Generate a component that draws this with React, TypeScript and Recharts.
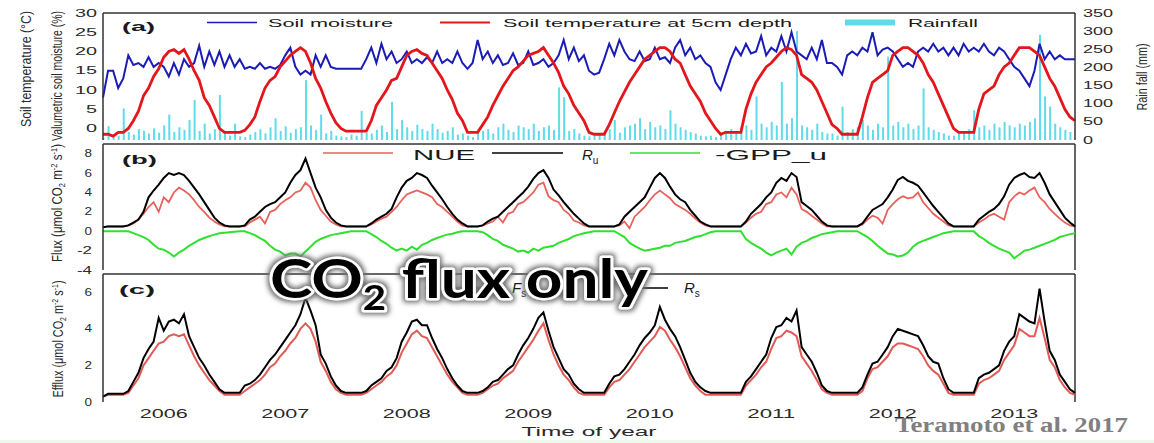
import {
  ComposedChart,
  LineChart,
  Line,
  Bar,
  XAxis,
  YAxis,
  ReferenceLine,
} from "recharts";

const FONT = "'Liberation Sans', Arial, sans-serif";
const AXIS_TEXT = "#2a2a2a";
const FRAME = "#333";

const START_YEAR = 2006;
const END_YEAR = 2014;
const STEPS_PER_YEAR = 24; // half-month samples
const YEAR_BOUNDARIES = [2007, 2008, 2009, 2010, 2011, 2012, 2013];
const YEAR_LABEL_TICKS = [2006.5, 2007.5, 2008.5, 2009.5, 2010.5, 2011.5, 2012.5, 2013.5];

// ---- panel (a) ----
// one row per year, last value closes the series at 2014
const soilMoisture = [
  8, 15, 15, 10.5, 13, 19, 16.5, 17, 16, 18.5, 16, 17, 16, 13.5, 17, 14, 18, 16, 17, 21.5, 16, 20, 16.5, 20,
  16, 19, 16, 18, 15.5, 16, 15.5, 17, 15.5, 16, 15.5, 16.5, 19, 21, 16, 14, 15, 14, 19, 16, 19, 16, 15.5, 15.5,
  15.5, 15.5, 15.5, 15.5, 18, 21, 17, 22, 18, 20, 17, 18, 20, 17, 18, 17, 18.5, 17, 20, 17, 18, 17, 20, 17,
  15.5, 17, 23, 18, 20, 17, 19, 16.5, 17, 19.5, 16.5, 17, 20, 16.5, 17, 18, 16, 17, 19, 23, 18, 21, 17.5, 19,
  15, 14, 14.5, 18, 22, 19, 23, 20, 18, 17.5, 20, 17.5, 18, 21, 18, 18.5, 17, 21, 23, 19, 21, 18, 19, 17,
  16, 12, 10, 14, 18, 21, 19, 22, 19.5, 20, 24, 19, 21, 20, 24, 20, 25, 20, 19, 18, 21, 18, 23, 17,
  17, 16, 14, 19, 20, 19, 21, 20, 25, 19, 20.5, 21, 20, 18, 16, 17, 16, 20, 21, 20, 22, 20, 21, 19,
  21, 19, 22, 20, 21, 20, 22, 20, 19, 21, 20, 18, 16, 15, 13, 11, 15, 22, 18, 20, 18, 19, 18, 18,
  18,
];

const soilTemp = [
  -1.5, -1.5, -2, -1, -1, 0, 2, 4.5, 8.5, 10.5, 13.5, 15.5, 18.5, 20, 20.5, 19.5, 20.5, 18, 15, 12.5, 8, 6, 3, 0,
  -1, -1, -1, -1, -0.5, 1, 3, 7, 10.5, 12.5, 13.5, 16, 17.5, 19, 20, 21, 20, 17, 13, 10.5, 7, 4, 1.5, 0,
  -0.7, -0.7, -0.7, -0.7, -0.7, 2, 6, 8, 10, 12.5, 13, 16, 19, 20, 20.5, 19.5, 19, 17, 15, 13, 10, 7.5, 4, 2,
  -1, -1, -1, 1, 3, 6, 8.5, 11, 13, 15, 16, 17.5, 19, 19.5, 20, 21, 19, 17, 14.5, 11, 9, 6, 4, 2,
  -1, -1.5, -1.5, -1.5, 1, 4, 7, 9.5, 12, 14, 16, 18, 19, 20, 21, 21, 20, 18, 17, 14, 11, 9, 7, 4,
  2, 0, -1.5, -1, -1, -1, -1, 5, 9, 12, 14, 16, 17, 18.5, 20, 21, 20.5, 19, 14, 13, 12, 10, 7, 4,
  1, 0, -1.5, -1.5, -1.5, -1.5, 3, 8, 12, 13, 14, 15, 19, 20, 21, 21, 20, 19, 17, 14, 12, 9, 6, 3,
  0, -1, -1, -1, -1, 5, 9, 10, 11, 14, 16, 17, 19, 21, 21, 21, 20, 19, 16, 13, 11, 8, 5, 3,
  2,
];

const rainfall = [
  5, 38, 10, 12, 87, 22, 15, 30, 25, 18, 32, 20, 40, 70, 22, 35, 28, 55, 110, 25, 45, 18, 30, 124,
  20, 12, 45, 10, 8, 15, 22, 30, 18, 35, 60, 25, 38, 20, 30, 35, 165, 40, 28, 70, 18, 25, 12, 10,
  8, 15, 12, 80, 20, 18, 28, 40, 22, 105, 30, 55, 35, 25, 42, 30, 25, 45, 30, 20, 25, 35, 15, 18,
  12, 8, 20, 25, 30, 18, 35, 45, 28, 22, 40, 35, 30, 45, 25, 35, 40, 28, 145, 118, 25, 30, 18, 12,
  10, 12, 18, 22, 30, 55, 20, 35, 40, 45, 60, 30, 50, 35, 40, 30, 82, 45, 35, 28, 22, 18, 12, 10,
  12, 8, 18, 22, 30, 20, 35, 40, 28, 120, 45, 35, 50, 40, 160, 45, 60, 300, 40, 35, 28, 45, 22, 18,
  18, 12, 92, 22, 30, 35, 55, 40, 28, 45, 35, 230, 40, 50, 35, 45, 30, 40, 142, 35, 28, 22, 18, 12,
  12, 18, 22, 30, 82, 35, 40, 28, 45, 35, 50, 40, 35, 45, 40, 50, 60, 290, 120, 92, 45, 35, 28, 22,
];

// ---- panel (b) ----
const nue = [
  0.4, 0.5, 0.5, 0.5, 0.5, 0.6, 0.8, 1.2, 1.8, 2.5, 3, 2, 3.5, 3, 4, 4.5, 4.2, 3.8, 3.2, 2.5, 2, 1.4, 1, 0.7,
  0.5, 0.5, 0.5, 0.5, 0.5, 0.9, 1.2, 1.5, 0.8, 2, 2.2, 2.8, 3.2, 3.5, 4, 4.2, 5, 4.5, 3.2, 2.2, 1.6, 1, 0.7, 0.5,
  0.5, 0.5, 0.5, 0.5, 0.5, 0.7, 1, 1.3, 1.5, 2, 2.5, 3.2, 3.8, 4, 4.2, 4, 3.8, 3.5, 2.8, 2.5, 2, 1.5, 1, 0.6,
  0.5, 0.5, 0.5, 0.6, 0.8, 1, 1.5, 0.9, 1.8, 2, 2.8, 3, 3.5, 4, 4.8, 5, 3.6, 3.2, 3, 2.2, 1.8, 1.1, 0.9, 0.6,
  0.5, 0.5, 0.5, 0.5, 0.5, 0.5, 0.6, 1, 0.3, 1.5, 2, 2.5, 3.2, 3.8, 4.2, 3.8, 3.4, 2.8, 2.5, 2.2, 1.8, 1.3, 0.9, 0.6,
  0.5, 0.5, 0.5, 0.5, 0.5, 0.5, 0.5, 0.9, 1.4, 1.8, 2, 2.8, 3, 3.8, 4, 3.5, 4.5, 3.8, 2.3, 2, 1.6, 1.2, 0.8, 0.5,
  0.5, 0.5, 0.5, 0.5, 0.5, 0.5, 0.7, 1.2, 1.6, 1.4, 0.8, 2.2, 2.8, 3.3, 3.6, 3.4, 3.5, 4, 3, 2.4, 1.8, 1.4, 1, 0.6,
  0.5, 0.5, 0.5, 0.5, 0.5, 0.9, 1.2, 1.6, 1.8, 1.5, 1.2, 3, 3.6, 4, 3.8, 4.2, 4.5, 3.5, 3, 2.3, 1.8, 1.3, 0.9, 0.6,
  0.5,
];

const ru = [
  0.4, 0.5, 0.5, 0.5, 0.5, 0.6, 0.9, 1.2, 2, 3.5, 4.2, 4.8, 5.5, 6, 5.8, 6, 5.8, 5.2, 4.5, 3.8, 3, 2.2, 1.4, 0.9,
  0.6, 0.5, 0.5, 0.5, 0.6, 1.2, 1.5, 2, 2.5, 2.8, 3, 3.5, 4, 5, 5.8, 6.3, 7.5, 6, 4.5, 3.5, 2.2, 1.4, 0.9, 0.6,
  0.5, 0.5, 0.5, 0.5, 0.5, 0.8, 1.2, 1.5, 1.8, 2.3, 3.5, 4.5, 5.2, 5.5, 6, 5.8, 5.5, 4.7, 4, 3.3, 2.5, 1.8, 1.2, 0.8,
  0.5, 0.5, 0.5, 0.6, 1, 1.3, 1.5, 2, 2.5, 3, 3.5, 4, 4.6, 5.4, 6, 6.3, 5.5, 4.3, 3.7, 3, 2.4, 1.8, 1.3, 0.8,
  0.5, 0.5, 0.5, 0.5, 0.5, 0.5, 0.7, 1.5, 2, 2.5, 3, 3.5, 4.5, 5.5, 6, 5.5, 4.6, 3.8, 3.3, 3, 2.2, 1.6, 1, 0.7,
  0.5, 0.5, 0.5, 0.5, 0.5, 0.5, 0.5, 1, 1.8, 2.3, 2.8, 3.5, 4, 5, 5.5, 5.2, 6, 5.6, 3, 2.6, 2.2, 1.6, 1, 0.6,
  0.5, 0.5, 0.5, 0.5, 0.5, 0.5, 0.8, 1.5, 2.2, 2.5, 2.8, 3.5, 4.3, 5.3, 5.6, 5.2, 5, 4.7, 4, 3.3, 2.6, 2, 1.4, 0.8,
  0.5, 0.5, 0.5, 0.5, 0.5, 1.2, 1.6, 2, 2.3, 2.8, 3.6, 4.8, 5.5, 5.8, 6, 5.6, 5.5, 6, 5, 3.8, 3, 2.2, 1.4, 0.9,
  0.5,
];

const gppU = [
  0, 0, 0, 0, 0, 0, -0.2, -0.4, -0.6, -0.9, -1.4, -1.8, -1.9, -2.2, -2.6, -2.2, -1.9, -1.5, -1.2, -0.9, -0.7, -0.5, -0.35, -0.2,
  -0.15, -0.1, -0.05, 0, 0, -0.2, -0.4, -0.7, -1, -1.5, -1.9, -2.1, -2.5, -2.3, -2.3, -2.6, -2.1, -1.6, -1.1, -0.8, -0.6, -0.4, -0.3, -0.2,
  -0.1, 0, 0, 0, 0, -0.3, -0.6, -1, -1.3, -1.7, -2, -1.8, -2, -1.6, -1.9, -1.4, -1.2, -0.9, -0.7, -0.5, -0.35, -0.25, -0.1, 0,
  0, 0, 0, -0.1, -0.4, -0.8, -1, -1.4, -1.6, -1.8, -2.1, -2, -2.2, -1.8, -2, -1.7, -1.6, -1.5, -1.2, -1, -0.8, -0.5, -0.35, -0.2,
  -0.1, 0, 0, 0, 0, 0, -0.3, -0.6, -1.2, -1.5, -1.8, -2, -1.9, -1.8, -1.7, -1.5, -1.5, -1.2, -1.1, -1, -0.8, -0.6, -0.5, -0.3,
  -0.1, 0, 0, 0, 0, 0, 0, -0.8, -1.2, -1.5, -1.8, -2.2, -2.5, -2.2, -2, -1.8, -2.4, -1.6, -1.2, -1, -0.7, -0.5, -0.3, -0.2,
  -0.1, 0, 0, 0, 0, 0, -0.3, -0.6, -1, -1.5, -1.9, -2.3, -2.4, -2.6, -2.5, -2.2, -1.6, -1.2, -1, -0.8, -0.6, -0.4, -0.2, -0.1,
  0, 0, 0, 0, 0, -0.5, -0.8, -1.2, -1.5, -1.8, -2, -2.2, -2.8, -2.4, -2, -1.9, -1.7, -1.5, -1.3, -1.1, -0.9, -0.6, -0.45, -0.3,
  -0.2,
];

// ---- panel (c) ----
const fsEfflux = [
  0.3, 0.4, 0.4, 0.4, 0.4, 0.5, 0.9, 1.3, 2, 2.4, 2.8, 3.2, 3.3, 3.6, 3.7, 3.6, 3.7, 3.1, 2.5, 2, 1.6, 1.2, 0.9, 0.6,
  0.4, 0.4, 0.4, 0.4, 0.6, 0.8, 1, 1.2, 1.5, 1.9, 2.1, 2.5, 2.8, 3.2, 3.5, 4, 4.3, 4, 3.3, 2.2, 1.7, 1.1, 0.7, 0.5,
  0.4, 0.4, 0.4, 0.4, 0.5, 0.7, 0.9, 1.1, 1.4, 1.6, 2, 2.7, 3.2, 3.7, 3.9, 3.6, 3.5, 3, 2.5, 2, 1.5, 1.1, 0.8, 0.5,
  0.4, 0.4, 0.4, 0.5, 0.7, 0.9, 1, 1.3, 1.5, 1.7, 2.2, 2.6, 3, 3.4, 3.9, 4.3, 3.4, 2.6, 2, 1.5, 1.2, 0.8, 0.5, 0.4,
  0.4, 0.4, 0.4, 0.4, 0.8, 1.1, 1.2, 1.5, 1.8, 2.2, 2.6, 3, 3.3, 3.6, 4.1, 3.9, 3.4, 3, 2.5, 1.9, 1.3, 0.9, 0.6, 0.4,
  0.4, 0.4, 0.4, 0.4, 0.4, 0.4, 0.4, 0.9, 1.2, 1.5, 1.9, 2.2, 2.9, 3.5, 3.6, 3.9, 3.8, 3.6, 2.5, 2.1, 1.7, 1.2, 0.7, 0.5,
  0.4, 0.4, 0.4, 0.4, 0.4, 0.4, 0.6, 1.3, 1.8, 1.9, 2.2, 2.5, 3, 3.2, 3.2, 3.1, 3, 2.9, 2.5, 2, 1.7, 1.5, 1, 0.5,
  0.4, 0.4, 0.4, 0.4, 0.4, 1, 1.2, 1.3, 1.5, 1.7, 2.3, 2.7, 3.1, 4, 3.8, 3.6, 3.6, 4.6, 3.5, 2.3, 1.9, 1.2, 0.8, 0.5,
  0.4,
];

const rs = [
  0.3, 0.45, 0.45, 0.45, 0.45, 0.6, 1.1, 1.6, 2.4, 2.9, 3.3, 4.6, 3.9, 4.4, 4.5, 4.3, 4.8, 3.6, 3, 2.4, 2, 1.5, 1.1, 0.7,
  0.5, 0.5, 0.5, 0.5, 0.9, 1, 1.2, 1.5, 1.9, 2.3, 2.6, 3, 3.4, 3.8, 4.2, 4.8, 5.7, 5, 4.2, 2.6, 2.1, 1.4, 0.9, 0.6,
  0.5, 0.5, 0.5, 0.5, 0.6, 0.9, 1.1, 1.3, 1.7, 1.9, 2.4, 3.3, 3.8, 4.4, 4.5, 4.2, 4.2, 3.5, 2.9, 2.4, 1.8, 1.3, 0.9, 0.6,
  0.5, 0.5, 0.5, 0.6, 0.8, 1.1, 1.2, 1.5, 1.8, 2, 2.6, 3.1, 3.5, 4, 4.6, 4.9, 3.9, 3, 2.4, 1.8, 1.5, 1, 0.7, 0.5,
  0.5, 0.5, 0.5, 0.5, 1, 1.4, 1.5, 1.8, 2.2, 2.6, 3.1, 3.5, 3.8, 4.2, 5.2, 4.5, 4, 3.6, 3, 2.3, 1.6, 1.1, 0.8, 0.6,
  0.5, 0.5, 0.5, 0.5, 0.5, 0.5, 0.5, 1.1, 1.4, 1.8, 2.2, 2.6, 3.5, 4.1, 4.2, 4.6, 4.4, 5, 3, 2.6, 2.2, 1.6, 0.9, 0.6,
  0.5, 0.5, 0.5, 0.5, 0.5, 0.5, 0.8, 1.5, 2.1, 2.2, 2.6, 3, 3.6, 4, 3.9, 3.8, 3.7, 3.6, 3.1, 2.5, 2.2, 2.1, 1.3, 0.7,
  0.5, 0.5, 0.5, 0.5, 0.5, 1.3, 1.5, 1.6, 1.8, 2, 2.8, 3.3, 3.6, 4.8, 4.6, 4.4, 4.3, 6.2, 4.4, 2.8, 2.3, 1.5, 1.1, 0.7,
  0.5,
];

const rows = soilTemp.map((temp, i) => ({
  t: START_YEAR + i / STEPS_PER_YEAR,
  moisture: soilMoisture[i],
  temp,
  rain: rainfall[i] ?? null,
  nue: nue[i],
  ru: ru[i],
  gpp: gppU[i],
  fs: fsEfflux[i],
  rs: rs[i],
}));

type TickProps = { x: number; y: number; payload: { value: number } };

function StretchedTick(props: TickProps & { anchor: "start" | "end"; perChar: number }) {
  const { x, y, payload, anchor, perChar } = props;
  const label = String(payload.value);
  return (
    <text
      x={x}
      y={y}
      dy="0.36em"
      textAnchor={anchor}
      fontSize={10}
      fontFamily={FONT}
      fill={AXIS_TEXT}
      textLength={label.length * perChar}
      lengthAdjust="spacingAndGlyphs"
    >
      {label}
    </text>
  );
}

function YearTick({ x, y, payload }: TickProps) {
  const label = String(Math.floor(payload.value));
  return (
    <text
      x={x}
      y={y + 8}
      textAnchor="middle"
      fontSize={12}
      fontFamily={FONT}
      fill={AXIS_TEXT}
      textLength={48}
      lengthAdjust="spacingAndGlyphs"
    >
      {label}
    </text>
  );
}

const xDomain = [START_YEAR, END_YEAR];

function boundaryAxis() {
  return (
    <XAxis
      dataKey="t"
      type="number"
      domain={xDomain}
      ticks={YEAR_BOUNDARIES}
      tick={false}
      tickSize={-5}
      height={0}
      axisLine={{ stroke: FRAME, strokeWidth: 1.5 }}
      tickLine={{ stroke: FRAME, strokeWidth: 1.5 }}
    />
  );
}

// charts are a few px taller than their plots so edge tick labels are not clipped;
// the svgs are transparent, so overlapping them is harmless
function PanelA() {
  return (
    <ComposedChart width={1154} height={147} data={rows} margin={{ top: 13, right: 0, bottom: 7, left: 0 }}>
      {boundaryAxis()}
      <YAxis
        yAxisId="left"
        width={103}
        domain={[-3, 30]}
        ticks={[0, 5, 10, 15, 20, 25, 30]}
        interval={0}
        tickLine={false}
        tickMargin={0}
        axisLine={{ stroke: FRAME, strokeWidth: 1.5 }}
        tick={(p: TickProps) => <StretchedTick {...p} anchor="end" perChar={11} />}
      />
      <YAxis
        yAxisId="right"
        orientation="right"
        width={79}
        domain={[0, 350]}
        ticks={[0, 50, 100, 150, 200, 250, 300, 350]}
        interval={0}
        tickLine={false}
        axisLine={{ stroke: FRAME, strokeWidth: 1.5 }}
        tick={(p: TickProps) => <StretchedTick {...p} anchor="start" perChar={10} />}
      />
      <ReferenceLine yAxisId="left" y={30} stroke={FRAME} strokeWidth={1.5} />
      <Bar yAxisId="right" dataKey="rain" fill="#5fdbea" barSize={2} isAnimationActive={false} />
      <Line yAxisId="left" type="linear" dataKey="moisture" stroke="#1b1bb5" strokeWidth={2} dot={false} isAnimationActive={false} />
      <Line yAxisId="left" type="linear" dataKey="temp" stroke="#e3161c" strokeWidth={2.8} dot={false} isAnimationActive={false} />
    </ComposedChart>
  );
}

function PanelB() {
  return (
    <LineChart width={1154} height={137} data={rows} margin={{ top: 3, right: 79, bottom: 8, left: 0 }}>
      {boundaryAxis()}
      <YAxis
        width={103}
        domain={[-4, 9]}
        ticks={[-4, -2, 0, 2, 4, 6, 8]}
        interval={0}
        tickLine={false}
        tickMargin={5}
        axisLine={{ stroke: FRAME, strokeWidth: 1.5 }}
        tick={(p: TickProps) => <StretchedTick {...p} anchor="end" perChar={7.5} />}
      />
      <ReferenceLine y={9} stroke={FRAME} strokeWidth={1.5} />
      <ReferenceLine x={END_YEAR} stroke={FRAME} strokeWidth={1.5} />
      <Line type="linear" dataKey="gpp" stroke="#2fe02f" strokeWidth={2} dot={false} isAnimationActive={false} />
      <Line type="linear" dataKey="nue" stroke="#e8615b" strokeWidth={1.8} dot={false} isAnimationActive={false} />
      <Line type="linear" dataKey="ru" stroke="#000" strokeWidth={2} dot={false} isAnimationActive={false} />
    </LineChart>
  );
}

function PanelC() {
  return (
    <LineChart width={1154} height={172} data={rows} margin={{ top: 3, right: 79, bottom: 11, left: 0 }}>
      {boundaryAxis()}
      <XAxis
        xAxisId="years"
        type="number"
        dataKey="t"
        domain={xDomain}
        ticks={YEAR_LABEL_TICKS}
        interval={0}
        height={30}
        axisLine={false}
        tickLine={false}
        tick={(p: TickProps) => <YearTick {...p} />}
      />
      <YAxis
        width={103}
        domain={[0, 7]}
        ticks={[0, 2, 4, 6]}
        interval={0}
        tickLine={false}
        tickMargin={5}
        axisLine={{ stroke: FRAME, strokeWidth: 1.5 }}
        tick={(p: TickProps) => <StretchedTick {...p} anchor="end" perChar={7.5} />}
      />
      <ReferenceLine y={7} stroke={FRAME} strokeWidth={1.5} />
      <ReferenceLine x={END_YEAR} stroke={FRAME} strokeWidth={1.5} />
      <Line type="linear" dataKey="fs" stroke="#e25a55" strokeWidth={2} dot={false} isAnimationActive={false} />
      <Line type="linear" dataKey="rs" stroke="#000" strokeWidth={2} dot={false} isAnimationActive={false} />
    </LineChart>
  );
}

// legend, titles, axis names and the slide overlay
function Annotations() {
  const legendText = { fontFamily: FONT, fill: "#1a1a1a", lengthAdjust: "spacingAndGlyphs" } as const;
  const axisTitle = { fontFamily: FONT, fill: AXIS_TEXT, textAnchor: "middle", lengthAdjust: "spacingAndGlyphs" } as const;
  return (
    <svg width={1154} height={443} style={{ position: "absolute", left: 0, top: 0, pointerEvents: "none" }}>
      <defs>
        <filter id="glow" x="-10%" y="-40%" width="120%" height="180%">
          <feMorphology in="SourceAlpha" operator="dilate" radius="2" result="thick" />
          <feGaussianBlur in="thick" stdDeviation="2.5" result="blur" />
          <feFlood floodColor="#6f6f6f" />
          <feComposite in2="blur" operator="in" result="shadow" />
          <feMerge>
            <feMergeNode in="shadow" />
            <feMergeNode in="SourceGraphic" />
          </feMerge>
        </filter>
      </defs>

      {/* panel titles */}
      <text x={122} y={31} fontSize={13} fontWeight={700} textLength={33} {...legendText}>(a)</text>
      <text x={122} y={164} fontSize={13} fontWeight={700} textLength={35} {...legendText}>(b)</text>
      <text x={119} y={294} fontSize={13} fontWeight={700} textLength={36} {...legendText}>(c)</text>

      {/* legend (a) */}
      <line x1={207} x2={257} y1={22.5} y2={22.5} stroke="#1b1bb5" strokeWidth={1.5} />
      <text x={268} y={27} fontSize={11.5} textLength={125} {...legendText}>Soil moisture</text>
      <line x1={440} x2={490} y1={22.5} y2={22.5} stroke="#e3161c" strokeWidth={2} />
      <text x={503} y={27} fontSize={11.5} textLength={289} {...legendText}>Soil temperature at 5cm depth</text>
      <rect x={845} y={19.5} width={50} height={6} fill="#5fdbea" />
      <text x={908} y={27} fontSize={11.5} textLength={70} {...legendText}>Rainfall</text>

      {/* legend (b) */}
      <line x1={323} x2={393} y1={153} y2={153} stroke="#e8615b" strokeWidth={1.3} />
      <text x={413} y={159.5} fontSize={14} textLength={62} {...legendText}>NUE</text>
      <line x1={492} x2={563} y1={153} y2={153} stroke="#000" strokeWidth={1.3} />
      <text x={582} y={159.5} fontSize={15} fontStyle="italic" fontFamily={FONT} fill="#1a1a1a">
        R<tspan fontSize={10} fontStyle="normal" dy={4}>u</tspan>
      </text>
      <line x1={630} x2={700} y1={153} y2={153} stroke="#2fe02f" strokeWidth={1.3} />
      <text x={715} y={159.5} fontSize={14} textLength={112} {...legendText}>-GPP_u</text>

      {/* legend (c) */}
      <line x1={425} x2={495} y1={288} y2={288} stroke="#e25a55" strokeWidth={1.3} />
      <text x={512} y={293} fontSize={15} fontStyle="italic" fontFamily={FONT} fill="#1a1a1a">
        F<tspan fontSize={10} fontStyle="normal" dy={4}>s</tspan>
      </text>
      <line x1={623} x2={668} y1={288} y2={288} stroke="#000" strokeWidth={1.3} />
      <text x={684} y={293} fontSize={15} fontStyle="italic" fontFamily={FONT} fill="#1a1a1a">
        R<tspan fontSize={10} fontStyle="normal" dy={4}>s</tspan>
      </text>

      {/* axis titles */}
      <text transform="translate(31 69) rotate(-90)" textLength={116} fontSize={14} {...axisTitle}>Soil temperature (°C)</text>
      <text transform="translate(62 76) rotate(-90)" textLength={130} fontSize={15} {...axisTitle}>Valumetric soil moisture (%)</text>
      <text transform="translate(1147 77) rotate(-90)" textLength={67} fontSize={15} {...axisTitle}>Rain fall (mm)</text>
      <text transform="translate(62 203) rotate(-90)" textLength={118} fontSize={14} {...axisTitle}>
        Flux (μmol CO<tspan fontSize={9} dy={3}>2</tspan>
        <tspan dy={-3}> m</tspan>
        <tspan fontSize={9} dy={-5}>-2</tspan>
        <tspan dy={5}> s</tspan>
        <tspan fontSize={9} dy={-5}>-1</tspan>
        <tspan dy={5}>)</tspan>
      </text>
      <text transform="translate(63 339) rotate(-90)" textLength={117} fontSize={14} {...axisTitle}>
        Efflux (μmol CO<tspan fontSize={9} dy={3}>2</tspan>
        <tspan dy={-3}> m</tspan>
        <tspan fontSize={9} dy={-5}>-2</tspan>
        <tspan dy={5}> s</tspan>
        <tspan fontSize={9} dy={-5}>-1</tspan>
        <tspan dy={5}>)</tspan>
      </text>
      <text x={589} y={436} fontSize={12} textLength={135} textAnchor="middle" {...legendText} fill={AXIS_TEXT}>Time of year</text>

      {/* slide overlay */}
      <text
        x={270}
        y={298}
        fontFamily="Lato, 'Open Sans', sans-serif"
        fontWeight={700}
        fontSize={54}
        fill="#000"
        stroke="#fff"
        strokeWidth={5}
        strokeLinejoin="round"
        paintOrder="stroke"
        filter="url(#glow)"
        textLength={378}
        lengthAdjust="spacingAndGlyphs"
      >
        CO<tspan fontSize={34} dy={12}>2</tspan>
        <tspan dy={-12}> flux only</tspan>
      </text>
      <text
        x={895}
        y={432}
        fontFamily="'Liberation Serif', 'Times New Roman', serif"
        fontWeight={700}
        fontSize={20}
        fill="#808080"
        textLength={233}
        lengthAdjust="spacingAndGlyphs"
      >
        Teramoto et al. 2017
      </text>
    </svg>
  );
}

export default function App() {
  return (
    <div
      style={{
        position: "absolute",
        left: 0,
        top: 0,
        width: 1154,
        height: 443,
        background: "#fff",
        overflow: "hidden",
        fontFamily: FONT,
      }}
    >
      <div style={{ position: "absolute", left: 0, top: 271 }}>
        <PanelC />
      </div>
      <div style={{ position: "absolute", left: 0, top: 141 }}>
        <PanelB />
      </div>
      <div style={{ position: "absolute", left: 0, top: 0 }}>
        <PanelA />
      </div>
      <div style={{ position: "absolute", left: 0, top: 440, width: 1154, height: 3, background: "#ebfaeb" }} />
      <Annotations />
    </div>
  );
}
